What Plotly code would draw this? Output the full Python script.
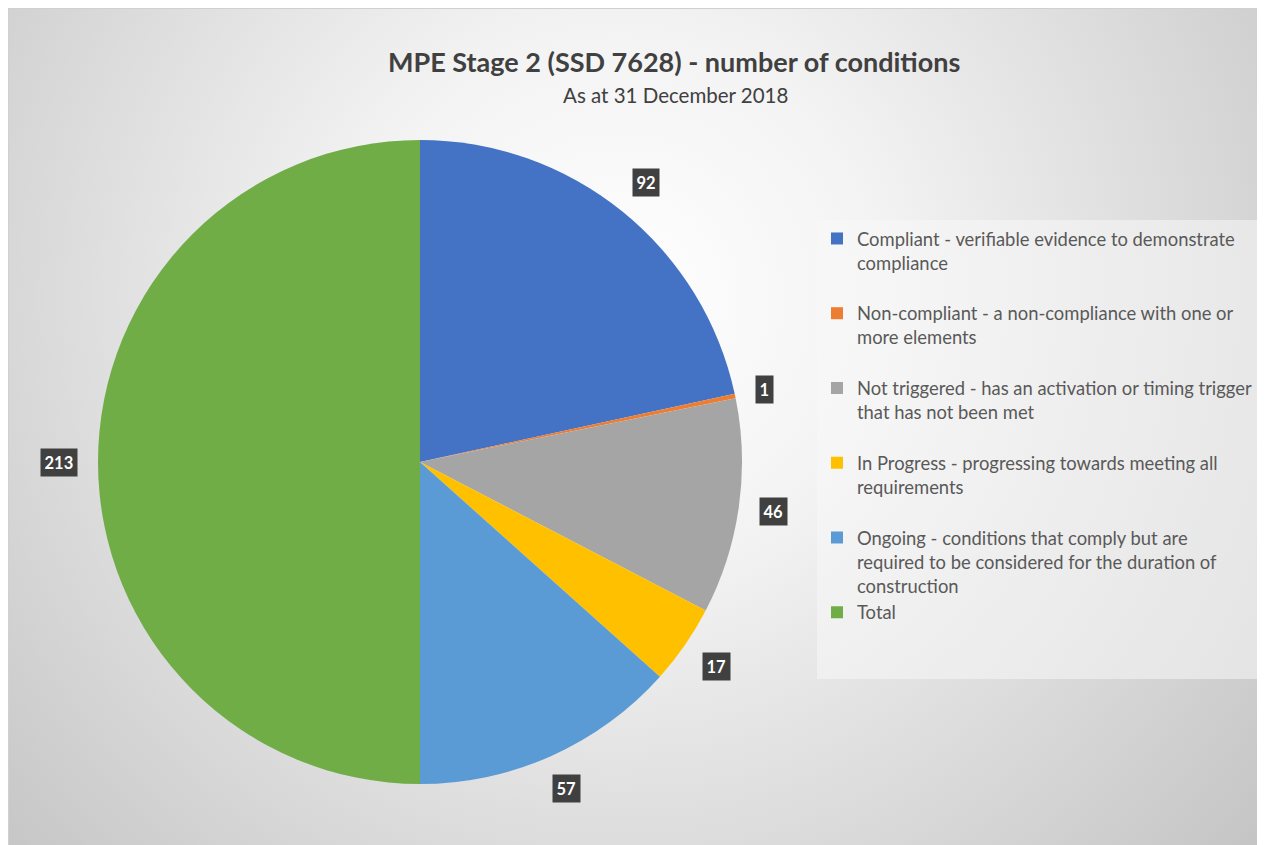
import math
import base64
import plotly.graph_objects as go

# ---------------- data ----------------
categories = [
    "Compliant - verifiable evidence to demonstrate<br>compliance",
    "Non-compliant - a non-compliance with one or<br>more elements",
    "Not triggered - has an activation or timing trigger<br>that has not been met",
    "In Progress - progressing towards meeting all<br>requirements",
    "Ongoing - conditions that comply but are<br>required to be considered for the duration of<br>construction",
    "Total",
]
values = [92, 1, 46, 17, 57, 213]
colors = ["#4472C4", "#ED7D31", "#A5A5A5", "#FFC000", "#5B9BD5", "#70AD47"]
title_text = "MPE Stage 2 (SSD 7628) - number of conditions"
subtitle_text = "As at 31 December 2018"

# page body has an 8px margin, so the figure is drawn 8px in
OFF = 8
W, H = 1265 - OFF, 845 - OFF
FONT = "Lato, 'Open Sans', sans-serif"


def px2x(sx):
    return (sx - OFF) / W


def py2y(sy):
    return 1 - (sy - OFF) / H


# pie geometry (screen pixels)
cx, cy, R = 420, 462, 322
dom_x = [px2x(cx - R), px2x(cx + R)]
dom_y = [py2y(cy + R), py2y(cy - R)]


def pad(lbl, last=False):
    if last:
        return lbl + "<br>&nbsp;" * 2
    n = lbl.count("<br>") + 1
    return lbl + "<br>&nbsp;" * max(0, 3 - n)


legend_labels = [pad(c, i == len(categories) - 1) for i, c in enumerate(categories)]

fig = go.Figure()
fig.add_trace(go.Pie(
    labels=legend_labels,
    values=values,
    sort=False,
    direction="clockwise",
    rotation=0,
    marker=dict(colors=colors, line=dict(width=0)),
    textinfo="none",
    hoverinfo="label+value",
    domain=dict(x=dom_x, y=dom_y),
))

# data labels: dark boxes just outside each slice, positioned from the values
total = sum(values)
cum = 0
annotations = []
for v in values:
    mid = (cum + v / 2) / total * 2 * math.pi
    cum += v
    s, c = math.sin(mid), math.cos(mid)
    hw = 5.5 * len(str(v)) + 5
    hh = 13.5
    rr = R + 17 + abs(s) * hw + abs(c) * hh
    sx = cx + rr * s
    sy = cy - rr * c
    annotations.append(dict(
        x=px2x(sx), y=py2y(sy), xref="paper", yref="paper",
        text="<b>%d</b>" % v, showarrow=False,
        font=dict(family=FONT, size=16.5, color="white"),
        bgcolor="#404040", borderpad=3.5,
        xanchor="center", yanchor="middle",
    ))

annotations.append(dict(
    x=px2x(674), y=py2y(62), xref="paper", yref="paper",
    text="<b>" + title_text + "</b>", showarrow=False,
    font=dict(family=FONT, size=27, color="#404040"),
    xanchor="center", yanchor="middle",
))
annotations.append(dict(
    x=px2x(675), y=py2y(95), xref="paper", yref="paper",
    text=subtitle_text, showarrow=False,
    font=dict(family=FONT, size=20.5, color="#404040"),
    xanchor="center", yanchor="middle",
))

# background: radial grey gradient
svg = f'''<svg xmlns="http://www.w3.org/2000/svg" width="{W}" height="{H}" viewBox="0 0 {W} {H}">
<defs><radialGradient id="g" cx="610" cy="290" r="900" gradientUnits="userSpaceOnUse">
<stop offset="0" stop-color="#ffffff"/><stop offset="0.3" stop-color="#f3f3f3"/>
<stop offset="1" stop-color="#c0c0c0"/></radialGradient></defs>
<rect x="0" y="0" width="{W}" height="{H}" fill="url(#g)"/>
<path d="M0.5,{H} V0.5 H{W}" fill="none" stroke="#d0d0d0" stroke-width="1"/>
</svg>'''
src = "data:image/svg+xml;base64," + base64.b64encode(svg.encode()).decode()

fig.update_layout(
    width=W, height=H,
    margin=dict(l=0, r=0, t=0, b=0),
    paper_bgcolor="white",
    plot_bgcolor="rgba(0,0,0,0)",
    font=dict(family=FONT, color="#595959"),
    showlegend=True,
    legend=dict(
        x=px2x(1257), y=py2y(220), xanchor="right", yanchor="top",
        bgcolor="rgba(248,248,248,0.55)",
        font=dict(family=FONT, size=18.4, color="#595959"),
        valign="top",
        itemclick=False, itemdoubleclick=False,
    ),
    annotations=annotations,
    images=[dict(
        source=src, xref="paper", yref="paper", x=0, y=1,
        sizex=1, sizey=1, xanchor="left", yanchor="top",
        sizing="stretch", layer="below",
    )],
)

fig.write_html("out.html")
